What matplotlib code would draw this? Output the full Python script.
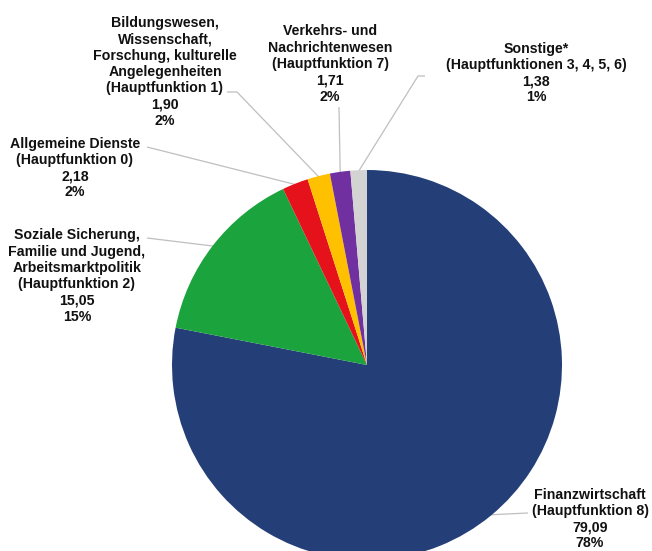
import numpy as np
import matplotlib.pyplot as plt

plt.rcParams['font.family'] = ['Liberation Sans', 'DejaVu Sans']

labels = ['Finanzwirtschaft\n(Hauptfunktion 8)',
          'Soziale Sicherung,\nFamilie und Jugend,\nArbeitsmarktpolitik\n(Hauptfunktion 2)',
          'Allgemeine Dienste\n(Hauptfunktion 0)',
          'Bildungswesen,\nWissenschaft,\nForschung, kulturelle\nAngelegenheiten\n(Hauptfunktion 1)',
          'Verkehrs- und\nNachrichtenwesen\n(Hauptfunktion 7)',
          'Sonstige*\n(Hauptfunktionen 3, 4, 5, 6)']
values = [79.09, 15.05, 2.18, 1.90, 1.71, 1.38]
colors = ['#243F77', '#1BA33D', '#E5121C', '#FFC000', '#7030A0', '#D3D3D3']

# label text centre (pixel coords, y from top) and connector path (start, optional elbow)
text_pos = [(590, 519), (77, 276), (75, 168), (165, 72), (330, 64), (536, 73)]
conn = [[(528, 513)],
        [(147, 238)],
        [(147, 147)],
        [(227, 92), (237, 92)],
        [(339, 107)],
        [(425, 76), (418, 76)]]

W, H = 652, 551
fig = plt.figure(figsize=(W / 100, H / 100), dpi=100)
ax = fig.add_axes([0, 0, 1, 1])

cx, cy, r = 367, H - 365, 195
wedges, _ = ax.pie(values, colors=colors, startangle=90, counterclock=False,
                   center=(cx, cy), radius=r, wedgeprops=dict(linewidth=0),
                   frame=True)
ax.set_xlim(0, W)
ax.set_ylim(0, H)
ax.set_aspect('equal')
ax.axis('off')

total = sum(values)
for w, lab, v, tp, path in zip(wedges, labels, values, text_pos, conn):
    pct = v / total * 100
    txt = f"{lab}\n{v:.2f}".replace('.', ',') + f"\n{pct:.0f}%"
    ax.text(tp[0], H - tp[1], txt, ha='center', va='center', fontsize=10.2,
            fontweight='bold', linespacing=1.21, color='#111111')
    ang = np.deg2rad((w.theta1 + w.theta2) / 2)
    ex, ey = cx + r * 0.995 * np.cos(ang), cy + r * 0.995 * np.sin(ang)
    xs = [p[0] for p in path] + [ex]
    ys = [H - p[1] for p in path] + [ey]
    ax.plot(xs, ys, color='#BFBFBF', lw=0.9, solid_capstyle='butt', zorder=0.5)

fig.savefig('out.png', dpi=100)
